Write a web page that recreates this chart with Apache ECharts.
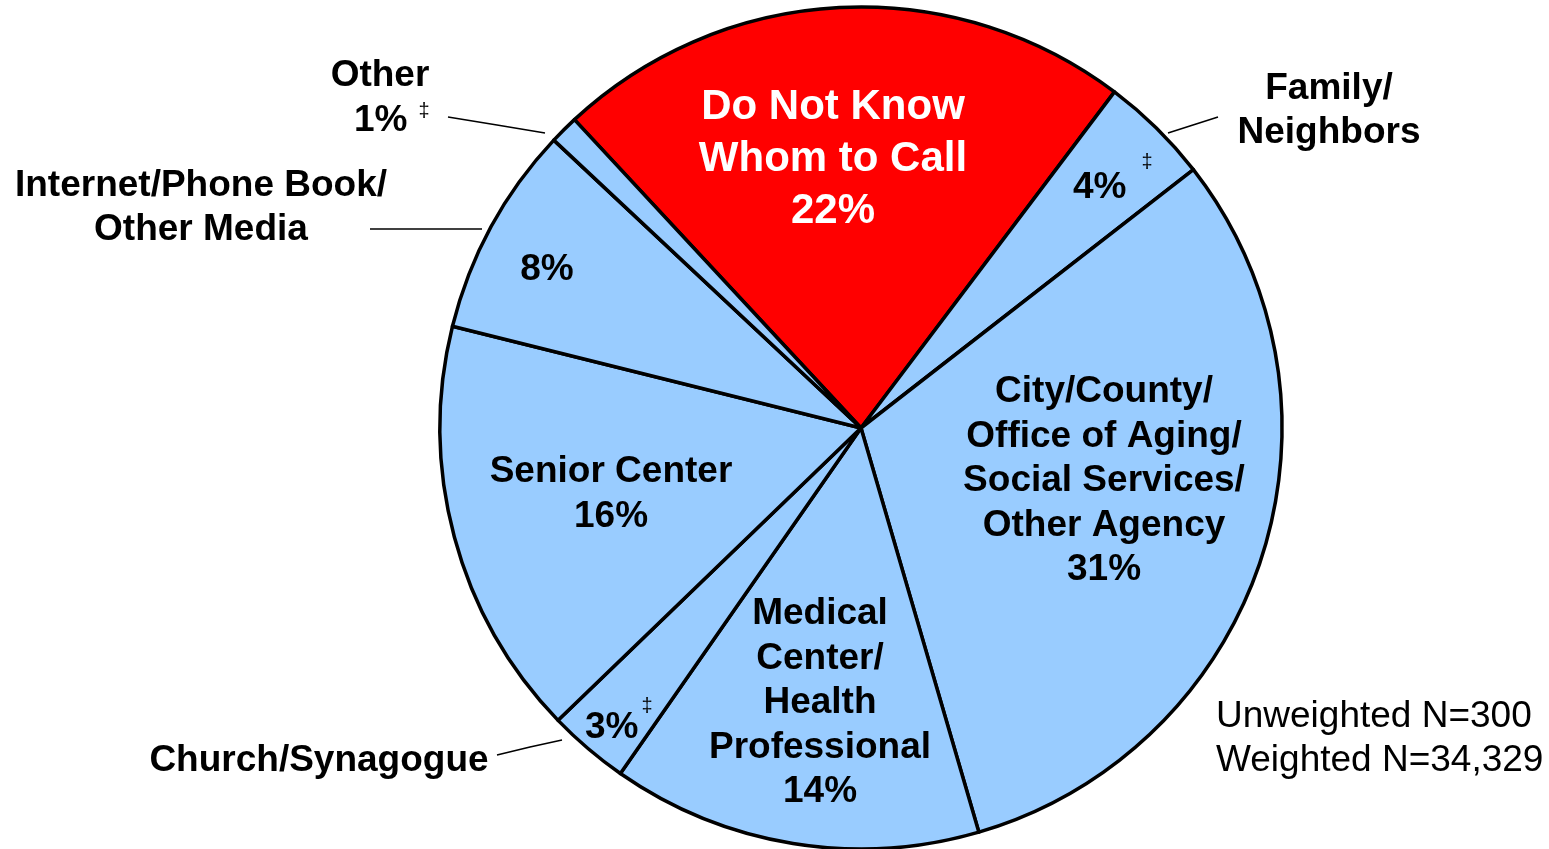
<!DOCTYPE html>
<html>
<head>
<meta charset="utf-8">
<script src="https://cdn.jsdelivr.net/npm/echarts@6/dist/echarts.min.js"></script>
<style>
  html, body { margin: 0; padding: 0; background: #fff; }
  #chart { width: 1549px; height: 849px; }
</style>
</head>
<body>
<div id="chart"></div>
<script>
// slices, clockwise from the top-left edge of the red slice
const categories = [
  'Do Not Know Whom to Call',
  'Family/Neighbors',
  'City/County/Office of Aging/Social Services/Other Agency',
  'Medical Center/Health Professional',
  'Church/Synagogue',
  'Senior Center',
  'Internet/Phone Book/Other Media',
  'Other'
];
const values = [22.2, 4.2, 31.0, 14.2, 3.1, 16.1, 8.1, 1.1];
const insideText = [
  'Do Not Know\nWhom to Call', '', 'City/County/\nOffice of Aging/\nSocial Services/\nOther Agency',
  'Medical\nCenter/\nHealth\nProfessional', '', 'Senior Center', '', ''
];
const outsideText = ['', 'Family/\nNeighbors', '', '', 'Church/Synagogue', '', 'Internet/Phone Book/\nOther Media', 'Other'];
const flagged = [false, true, false, false, true, false, false, true]; // ‡ marker
const sampleNote = 'Unweighted N=300\nWeighted N=34,329';

const FONT = "'Liberation Sans', Arial, Helvetica, sans-serif";
const BLUE = '#99ccff';
const RED = '#ff0000';

// label anchors [x, y, align]
const innerPos = [
  [833, 159.5, 'center'], [1073, 188, 'left'], [1104, 481, 'center'], [820, 703, 'center'],
  [585, 727.5, 'left'], [611, 494.5, 'center'], [547, 269.5, 'center'], [354, 120.5, 'left']
];
const outerPos = [null, [1329, 111, 'center'], null, null, [319, 760.5, 'center'], null, [201, 207.5, 'center'], [380, 75.5, 'center']];
const leaders = [
  null,
  [[1168, 133], [1193, 125], [1218, 117]],
  null, null,
  [[562, 740], [530, 747], [497, 755]],
  null,
  [[482, 229], [426, 229], [370, 229]],
  [[545, 133], [497, 125], [448, 117]]
];
// which raised style each ‡ uses
const daggerStyle = ['', 'dHi', '', '', 'dMid', '', '', 'dLo'];

function innerLabel(i) {
  const pct = Math.round(values[i]) + '%' + (flagged[i] ? '{' + daggerStyle[i] + '|‡}' : '');
  return insideText[i] ? insideText[i] + '\n' + pct : pct;
}

const dagger = (rise, gap) => ({
  fontFamily: FONT, fontSize: 20, fontWeight: 'normal', color: '#000',
  lineHeight: 20, padding: [0, 0, rise * 2, gap]
});

const innerData = categories.map((c, i) => {
  const item = { name: c, value: values[i], itemStyle: { color: i === 0 ? RED : BLUE } };
  if (i === 0) item.label = { color: '#fff', fontSize: 42, lineHeight: 52 };
  return item;
});
const outerData = categories.map((c, i) => ({
  name: c,
  value: values[i],
  label: { show: !!outsideText[i] },
  labelLine: { show: !!outsideText[i] }
}));

const chart = echarts.init(document.getElementById('chart'));
const option = {
  animation: false,
  backgroundColor: '#fff',
  series: [
    {
      type: 'pie',
      center: [861, 428],
      radius: [0, 421],
      startAngle: 132.9,
      clockwise: true,
      avoidLabelOverlap: false,
      emphasis: { disabled: true },
      silent: true,
      itemStyle: { borderColor: '#000', borderWidth: 3.5 },
      label: {
        show: true,
        position: 'inside',
        formatter: p => innerLabel(p.dataIndex),
        fontFamily: FONT,
        fontWeight: 'bold',
        fontSize: 37,
        lineHeight: 44.5,
        color: '#000',
        overflow: 'none',
        rich: {
          dHi: dagger(26, 15),
          dMid: dagger(21, 3),
          dLo: dagger(9, 11)
        }
      },
      labelLine: { show: false },
      labelLayout: p => {
        const pos = innerPos[p.dataIndex];
        return { x: pos[0], y: pos[1], align: pos[2], verticalAlign: 'middle' };
      },
      data: innerData
    },
    {
      type: 'pie',
      center: [861, 428],
      radius: [0, 421],
      startAngle: 132.9,
      clockwise: true,
      avoidLabelOverlap: false,
      emphasis: { disabled: true },
      silent: true,
      itemStyle: { color: 'rgba(0,0,0,0)', borderWidth: 0 },
      label: {
        position: 'outside',
        formatter: p => outsideText[p.dataIndex],
        fontFamily: FONT,
        fontWeight: 'bold',
        fontSize: 37,
        lineHeight: 44,
        color: '#000',
        overflow: 'none'
      },
      labelLine: { lineStyle: { color: '#000', width: 1.5 } },
      labelLayout: p => {
        const pos = outerPos[p.dataIndex];
        if (!pos) return {};
        return {
          x: pos[0], y: pos[1], align: pos[2], verticalAlign: 'middle',
          labelLinePoints: leaders[p.dataIndex]
        };
      },
      data: outerData
    }
  ],
  graphic: [
    {
      type: 'text',
      left: 1216,
      top: 695,
      style: { text: sampleNote, fontFamily: FONT, fontSize: 37, lineHeight: 44, fill: '#000' }
    }
  ]
};
chart.setOption(option);
</script>
</body>
</html>
